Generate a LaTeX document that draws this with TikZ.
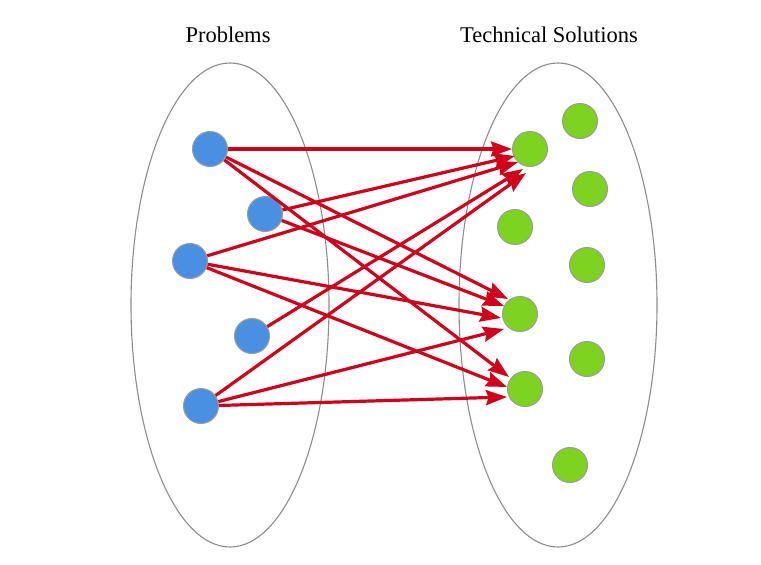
\documentclass[tikz,border=0pt]{standalone}
\usepackage{fontspec}
\setmainfont{Liberation Serif}
\usetikzlibrary{arrows.meta}
\definecolor{pblue}{HTML}{4A90E2}
\definecolor{sgreen}{HTML}{7ED321}
\definecolor{ered}{HTML}{D0021B}
\definecolor{rimgray}{HTML}{9B9B9B}
\begin{document}
\begin{tikzpicture}[x=1pt,y=-1pt,
  prob/.style={circle,fill=pblue,draw=rimgray,line width=1pt,minimum size=35pt,inner sep=0pt},
  sol/.style={circle,fill=sgreen,draw=rimgray,line width=1pt,minimum size=35pt,inner sep=0pt},
  link/.style={ered,line width=3.2pt,-{Stealth[length=21pt,width=15pt,inset=2.5pt]}},
  setring/.style={draw=gray!90,line width=1.1pt},
  title/.style={font=\fontsize{22.5}{26}\selectfont}]
\useasboundingbox (0,0) rectangle (761,565);
\draw[setring] (230,305) ellipse [x radius=99, y radius=242];
\draw[setring] (558,305) ellipse [x radius=99, y radius=242];
\node[title] (tp) at (228,35) {Problems};
\node[title] (ts) at (549,35) {Technical Solutions};
\node[prob] (b1) at (210,149) {};
\node[prob] (b2) at (265,214) {};
\node[prob] (b3) at (190,261) {};
\node[prob] (b4) at (252,336) {};
\node[prob] (b5) at (201,406) {};
\node[sol] (g1) at (530,149) {};
\node[sol] (g2) at (580,121) {};
\node[sol] (g3) at (590,189) {};
\node[sol] (g4) at (515,227) {};
\node[sol] (g5) at (587,265) {};
\node[sol] (g6) at (520,314) {};
\node[sol] (g7) at (587,359) {};
\node[sol] (g8) at (525,389) {};
\node[sol] (g9) at (570,465) {};
% arrow tip points
\coordinate (t21) at (515,156);
\coordinate (t31) at (518,162);
\coordinate (t41) at (523,169);
\coordinate (t51) at (526,173);
\coordinate (t16) at (508,299);
\coordinate (t26) at (504,306);
\coordinate (t36) at (501,318);
\coordinate (t56) at (504,329);
\coordinate (t18) at (509,377);
\coordinate (t38) at (507,387);
\coordinate (t58) at (507,397);
\draw[link] (b1) -- (g1);
\draw[link] (b1) -- (t16);
\draw[link] (b1) -- (t18);
\draw[link] (b2) -- (t21);
\draw[link] (b2) -- (t26);
\draw[link] (b3) -- (t31);
\draw[link] (b3) -- (t36);
\draw[link] (b3) -- (t38);
\draw[link] (b4) -- (t41);
\draw[link] (b5) -- (t51);
\draw[link] (b5) -- (t56);
\draw[link] (b5) -- (t58);
\end{tikzpicture}
\end{document}
